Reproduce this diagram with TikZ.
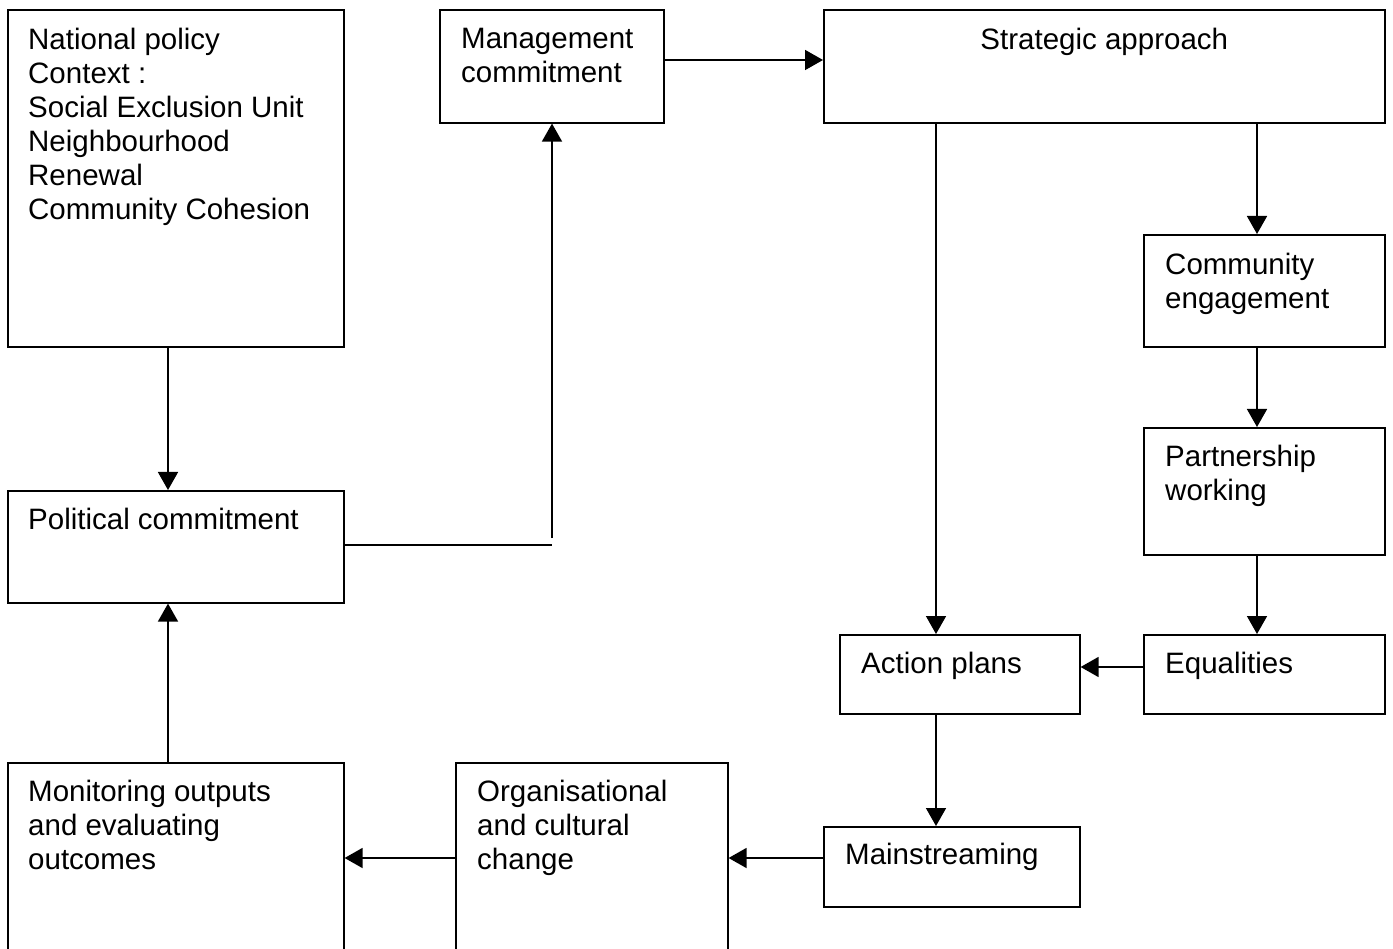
\documentclass[tikz,border=0pt]{standalone}
\usepackage{fontspec}
\setmainfont{Liberation Sans}
\usetikzlibrary{arrows.meta,calc}
\begin{document}
\begin{tikzpicture}[x=1pt,y=-1pt,
  box/.style={draw,line width=1.6pt,inner sep=0pt,anchor=north west},
  txt/.style={anchor=north west,inner sep=0pt,align=left,font=\fontsize{29.5}{34}\selectfont},
  conn/.style={line width=1.6pt,-{Triangle[length=18pt,width=20pt]}},
  plain/.style={line width=1.6pt}]
\useasboundingbox (0,0) rectangle (1393,949);
\clip (0,0) rectangle (1393,949);
\fill[white] (0,0) rectangle (1393,949);
% boxes
\node[box,minimum width=336pt,minimum height=337pt] (nat) at (7,9) {};
\node[box,minimum width=224pt,minimum height=113pt] (man) at (439,9) {};
\node[box,minimum width=561pt,minimum height=113pt] (str) at (823,9) {};
\node[box,minimum width=241pt,minimum height=112pt] (com) at (1143,234) {};
\node[box,minimum width=241pt,minimum height=127pt] (par) at (1143,427) {};
\node[box,minimum width=241pt,minimum height=79pt] (equ) at (1143,634) {};
\node[box,minimum width=240pt,minimum height=79pt] (act) at (839,634) {};
\node[box,minimum width=336pt,minimum height=112pt] (pol) at (7,490) {};
\node[box,minimum width=256pt,minimum height=80pt] (mai) at (823,826) {};
\node[box,minimum width=272pt,minimum height=230pt] (org) at (455,762) {};
\node[box,minimum width=336pt,minimum height=230pt] (mon) at (7,762) {};
% texts
\node[txt] (tnat) at ($(nat.north west)+(21,19)$) {National policy\\Context :\\Social Exclusion Unit\\Neighbourhood\\Renewal\\Community Cohesion};
\node[txt] (tman) at ($(man.north west)+(22,19)$) {Management\\commitment};
\node[txt,anchor=north] (tstr) at ($(str.north)+(0,19)$) {Strategic approach};
\node[txt] (tcom) at ($(com.north west)+(22,19)$) {Community\\engagement};
\node[txt] (tpar) at ($(par.north west)+(22,18)$) {Partnership\\working};
\node[txt] (tequ) at ($(equ.north west)+(22,18)$) {Equalities};
\node[txt] (tact) at ($(act.north west)+(22,18)$) {Action plans};
\node[txt] (tpol) at ($(pol.north west)+(21,18)$) {Political commitment};
\node[txt] (tmai) at ($(mai.north west)+(22,17)$) {Mainstreaming};
\node[txt] (torg) at ($(org.north west)+(22,18)$) {Organisational\\and cultural\\change};
\node[txt] (tmon) at ($(mon.north west)+(21,18)$) {Monitoring outputs\\and evaluating\\outcomes};
% connectors
\coordinate (j1) at (552,545);
\coordinate (j2) at (552,538);
\draw[conn] (nat.south -| 168,0) -- (pol.north -| 168,0);
\draw[conn] (mon.north -| 168,0) -- (pol.south -| 168,0);
\draw[plain] (pol.east |- j1) -- (j1);
\draw[conn] (j2) -- (man.south -| j2);
\draw[conn] (man.east |- 0,60) -- (str.west |- 0,60);
\draw[conn] (str.south -| 936,0) -- (act.north -| 936,0);
\draw[conn] (str.south -| 1257,0) -- (com.north -| 1257,0);
\draw[conn] (com.south -| 1257,0) -- (par.north -| 1257,0);
\draw[conn] (par.south -| 1257,0) -- (equ.north -| 1257,0);
\draw[conn] (equ.west |- 0,667) -- (act.east |- 0,667);
\draw[conn] (act.south -| 936,0) -- (mai.north -| 936,0);
\draw[conn] (mai.west |- 0,858) -- (org.east |- 0,858);
\draw[conn] (org.west |- 0,858) -- (mon.east |- 0,858);
\end{tikzpicture}
\end{document}
